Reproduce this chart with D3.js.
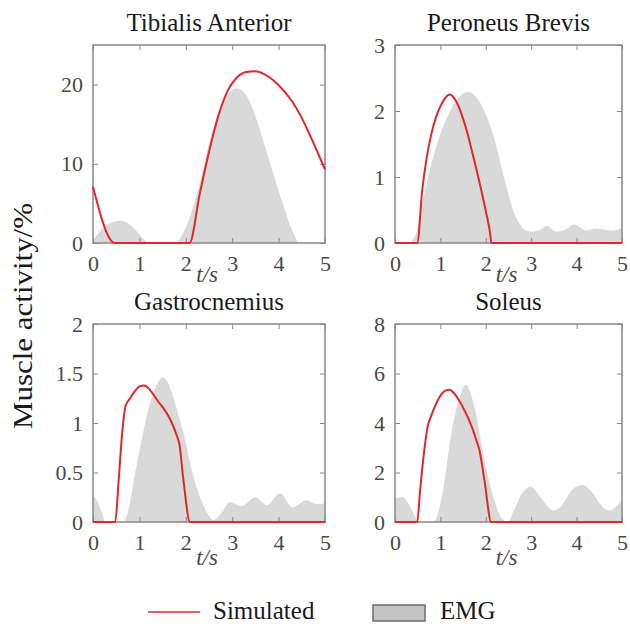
<!DOCTYPE html>
<html>
<head>
<meta charset="utf-8">
<script src="https://cdn.jsdelivr.net/npm/d3@7"></script>
<style>
  body { margin: 0; background: #fff; }
  svg text { font-family: 'Liberation Serif', 'Times New Roman', Times, serif; }
</style>
</head>
<body>
<div id="chart"></div>
<script>
// muscle names, y ranges and tick labels
const muscles = ['Tibialis Anterior', 'Peroneus Brevis', 'Gastrocnemius', 'Soleus'];
const yMaxes = [25, 3, 2, 8];
const yTickValues = [[0, 10, 20], [0, 1, 2, 3], [0, 0.5, 1, 1.5, 2], [0, 2, 4, 6, 8]];
const xTickValues = [0, 1, 2, 3, 4, 5];

// [t (s), activity (%)]
const taSimulated = [[0, 7.1], [0.47, 0], [2.08, 0], [2.3, 6.2], [2.5, 11.5], [2.7, 16], [2.9, 19.2],
  [3.1, 20.9], [3.3, 21.6], [3.5, 21.7], [3.7, 21.3], [3.9, 20.5], [4.1, 19.3], [4.3, 17.8],
  [4.5, 15.8], [4.7, 13.3], [4.85, 11.3], [5, 9.3]];
const taEmg = [[0, 0.3], [0.2, 1.8], [0.4, 2.6], [0.6, 2.8], [0.8, 2.3], [1.0, 1.1], [1.2, 0],
  [1.75, 0], [1.9, 0.8], [2.1, 3.5], [2.3, 7.5], [2.5, 12.5], [2.7, 16.5], [2.9, 18.8], [3.1, 19.5],
  [3.3, 18.7], [3.5, 16], [3.7, 12.3], [3.9, 8.5], [4.1, 4.8], [4.3, 1.5], [4.45, 0], [5, 0]];

const pbSimulated = [[0, 0], [0.49, 0], [0.6, 0.8], [0.7, 1.3], [0.8, 1.65], [0.9, 1.9], [1.0, 2.07],
  [1.1, 2.19], [1.2, 2.25], [1.3, 2.2], [1.4, 2.07], [1.5, 1.88], [1.6, 1.65], [1.7, 1.38], [1.8, 1.1],
  [1.9, 0.8], [2.0, 0.48], [2.1, 0.12], [2.12, 0], [5, 0]];
const pbEmg = [[0, 0], [0.3, 0], [0.45, 0.12], [0.6, 0.6], [0.8, 1.2], [1.0, 1.65], [1.2, 1.98],
  [1.4, 2.2], [1.6, 2.29], [1.8, 2.2], [2.0, 1.95], [2.2, 1.55], [2.4, 1.0], [2.6, 0.5], [2.8, 0.24],
  [3.0, 0.17], [3.2, 0.2], [3.35, 0.26], [3.55, 0.17], [3.75, 0.2], [3.95, 0.28], [4.2, 0.19],
  [4.45, 0.22], [4.6, 0.2], [4.8, 0.19], [5, 0.22]];

const gasSimulated = [[0, 0], [0.48, 0], [0.55, 0.4], [0.62, 0.85], [0.7, 1.17], [0.8, 1.25],
  [0.9, 1.32], [1.0, 1.37], [1.1, 1.38], [1.2, 1.35], [1.3, 1.29], [1.4, 1.22], [1.5, 1.16],
  [1.6, 1.09], [1.7, 1.0], [1.8, 0.88], [1.86, 0.79], [1.95, 0.42], [2.09, 0], [5, 0]];
const gasEmg = [[0, 0.27], [0.1, 0.2], [0.2, 0.08], [0.27, 0], [0.66, 0], [0.75, 0.1], [0.88, 0.42],
  [1.0, 0.72], [1.1, 0.95], [1.2, 1.15], [1.3, 1.3], [1.4, 1.41], [1.5, 1.46], [1.6, 1.42], [1.7, 1.3],
  [1.8, 1.15], [1.9, 0.98], [2.0, 0.8], [2.1, 0.58], [2.2, 0.4], [2.3, 0.26], [2.45, 0.1], [2.6, 0.02],
  [2.75, 0.08], [2.95, 0.2], [3.2, 0.16], [3.5, 0.25], [3.75, 0.17], [4.03, 0.29], [4.3, 0.15],
  [4.6, 0.22], [4.82, 0.18], [5, 0.19]];

const solSimulated = [[0, 0], [0.49, 0], [0.55, 1.2], [0.62, 2.5], [0.72, 3.85], [0.8, 4.3],
  [0.9, 4.75], [1.0, 5.1], [1.1, 5.3], [1.2, 5.34], [1.3, 5.2], [1.4, 4.95], [1.5, 4.62], [1.6, 4.25],
  [1.7, 3.8], [1.8, 3.25], [1.86, 2.9], [1.97, 1.69], [2.12, 0], [5, 0]];
const solEmg = [[0, 0.95], [0.16, 1.01], [0.34, 0.6], [0.49, 0.07], [0.55, 0], [0.85, 0], [1.03, 1.0],
  [1.25, 3.7], [1.43, 5.07], [1.56, 5.55], [1.75, 4.66], [1.97, 2.5], [2.19, 0.88], [2.33, 0.2],
  [2.48, 0], [2.62, 0.47], [2.8, 1.15], [2.99, 1.42], [3.2, 1.01], [3.49, 0.47], [3.64, 0.6],
  [3.93, 1.35], [4.14, 1.49], [4.36, 1.15], [4.58, 0.6], [4.72, 0.47], [5, 0.88]];

const simulatedSeries = [taSimulated, pbSimulated, gasSimulated, solSimulated];
const emgSeries = [taEmg, pbEmg, gasEmg, solEmg];

// panel boxes in pixels
const boxes = [
  { left: 93, right: 325, top: 45, bottom: 243, labelOffset: 39 },
  { left: 395, right: 622, top: 45, bottom: 243, labelOffset: 39 },
  { left: 93, right: 325, top: 324, bottom: 522, labelOffset: 43 },
  { left: 395, right: 622, top: 324, bottom: 522, labelOffset: 43 }
];

const RED = '#e3262b';
const GRAY_FILL = '#d9d9d9';
const FRAME = '#888';
const TICK_TEXT = '#4a4a4a';

const svg = d3.select('#chart')
  .append('svg')
  .attr('width', 630)
  .attr('height', 626);

svg.append('rect').attr('width', 630).attr('height', 626).attr('fill', '#fff');

muscles.forEach(function (name, i) {
  const b = boxes[i];
  const x = d3.scaleLinear().domain([0, 5]).range([b.left, b.right]);
  const y = d3.scaleLinear().domain([0, yMaxes[i]]).range([b.bottom, b.top]);
  const g = svg.append('g').attr('class', 'panel');

  // EMG envelope
  g.append('path')
    .datum(emgSeries[i])
    .attr('fill', GRAY_FILL)
    .attr('d', d3.area()
      .x(d => x(d[0]))
      .y0(y(0))
      .y1(d => y(d[1]))
      .curve(d3.curveMonotoneX));

  // box with inward ticks on all sides
  const bottomAxis = g.append('g')
    .attr('transform', 'translate(0,' + b.bottom + ')')
    .call(d3.axisBottom(x).tickValues(xTickValues).tickSize(-5).tickPadding(12).tickFormat(d3.format('d')));
  const topAxis = g.append('g')
    .attr('transform', 'translate(0,' + b.top + ')')
    .call(d3.axisTop(x).tickValues(xTickValues).tickSize(-5).tickFormat(''));
  const leftAxis = g.append('g')
    .attr('transform', 'translate(' + b.left + ',0)')
    .call(d3.axisLeft(y).tickValues(yTickValues[i]).tickSize(-5).tickPadding(10).tickFormat(d => d));
  const rightAxis = g.append('g')
    .attr('transform', 'translate(' + b.right + ',0)')
    .call(d3.axisRight(y).tickValues(yTickValues[i]).tickSize(-5).tickFormat(''));

  [bottomAxis, topAxis, leftAxis, rightAxis].forEach(function (ax) {
    ax.select('.domain').remove();
    ax.selectAll('line').attr('stroke', FRAME);
    ax.selectAll('text')
      .attr('fill', TICK_TEXT)
      .style('font-family', "'Liberation Serif', 'Times New Roman', Times, serif")
      .style('font-size', '22px');
  });

  g.append('rect')
    .attr('x', b.left)
    .attr('y', b.top)
    .attr('width', b.right - b.left)
    .attr('height', b.bottom - b.top)
    .attr('fill', 'none')
    .attr('stroke', FRAME)
    .attr('stroke-width', 1.5);

  // simulated activity
  g.append('path')
    .datum(simulatedSeries[i])
    .attr('fill', 'none')
    .attr('stroke', RED)
    .attr('stroke-width', 2)
    .attr('stroke-linejoin', 'round')
    .attr('d', d3.line()
      .x(d => x(d[0]))
      .y(d => y(d[1]))
      .curve(d3.curveMonotoneX));

  // title
  g.append('text')
    .attr('x', (b.left + b.right) / 2)
    .attr('y', b.top - 14)
    .attr('text-anchor', 'middle')
    .attr('fill', '#1a1a1a')
    .style('font-size', '25px')
    .text(name);

  // x label
  g.append('text')
    .attr('x', (b.left + b.right) / 2 - 2)
    .attr('y', b.bottom + b.labelOffset)
    .attr('text-anchor', 'middle')
    .attr('fill', TICK_TEXT)
    .style('font-size', '23px')
    .style('font-style', 'italic')
    .text('t/s');
});

// shared y label
svg.append('text')
  .attr('transform', 'translate(32,316) rotate(-90)')
  .attr('text-anchor', 'middle')
  .attr('fill', '#1a1a1a')
  .attr('textLength', 226)
  .attr('lengthAdjust', 'spacingAndGlyphs')
  .style('font-size', '28px')
  .text('Muscle activity/%');

// legend
const legend = svg.append('g').attr('class', 'legend');
legend.append('line')
  .attr('x1', 148).attr('x2', 200)
  .attr('y1', 612).attr('y2', 612)
  .attr('stroke', RED)
  .attr('stroke-width', 1.5);
legend.append('text')
  .attr('x', 213).attr('y', 619)
  .attr('fill', '#1a1a1a')
  .style('font-size', '25px')
  .text('Simulated');
legend.append('rect')
  .attr('x', 373).attr('y', 605)
  .attr('width', 52).attr('height', 16)
  .attr('fill', '#c4c4c4')
  .attr('stroke', '#6e6e6e')
  .attr('stroke-width', 1.5);
legend.append('text')
  .attr('x', 440).attr('y', 619)
  .attr('fill', '#1a1a1a')
  .style('font-size', '25px')
  .text('EMG');
</script>
</body>
</html>
